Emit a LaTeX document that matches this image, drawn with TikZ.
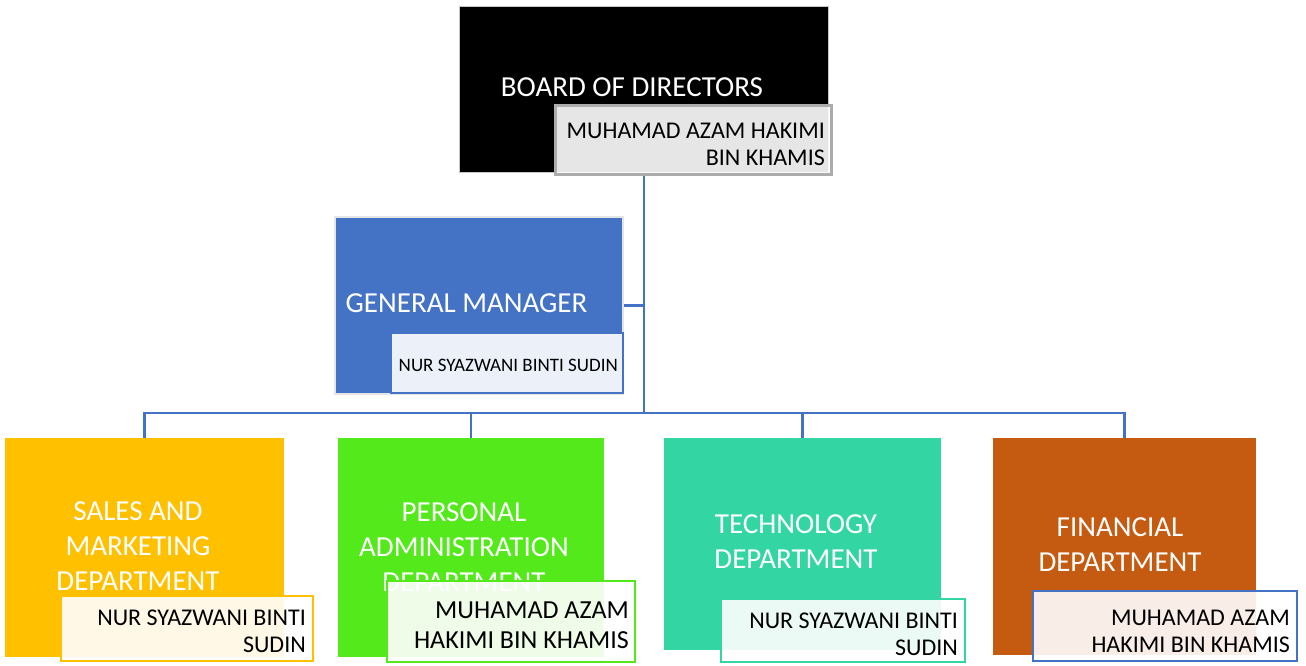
\documentclass[tikz,border=0pt]{standalone}
\usepackage{fontspec}
\setmainfont{Carlito}
\usetikzlibrary{positioning, backgrounds}
\definecolor{orgblue}{HTML}{4472C4}
\definecolor{salesgold}{HTML}{FFC000}
\definecolor{adminlime}{HTML}{53E91B}
\definecolor{techteal}{HTML}{33D6A3}
\definecolor{financerust}{HTML}{C55A11}
\tikzset{
    org_box/.style={
        rectangle,
        anchor=north west,
        inner sep=0pt
    },
    org_board/.style={
        org_box,
        fill=black,
        draw=gray!45,
        line width=1pt
    },
    org_gm/.style={
        org_box,
        fill=orgblue,
        draw=gray!20,
        line width=2pt
    },
    org_unit/.style={
        org_box,
        fill=#1
    },
    org_holder/.style={
        org_box,
        fill=white,
        fill opacity=0.9,
        draw=#1,
        line width=2pt
    },
    org_title/.style={
        text=white,
        align=center,
        inner sep=0pt,
        font=\fontsize{29}{35}\selectfont
    },
    org_holder_text/.style={
        anchor=east,
        align=right,
        inner sep=0pt,
        font=\fontsize{24}{27}\selectfont
    },
    org_line/.style={
        draw=orgblue,
        line width=2.5pt
    }
}

\begin{document}
\begin{tikzpicture}[x=1pt, y=-1pt]
\useasboundingbox (0,0) rectangle (1306,665);

% Top of the chart
\node[org_board, minimum width=369pt, minimum height=166pt] (board) at (459,6) {};
\node[org_title] (boardTitle) at (632,87) {BOARD OF DIRECTORS};
\node[org_holder=gray!65, line width=3pt, minimum width=276pt, minimum height=69pt] (boardName) at (554,104) {};
\node[org_holder_text] (boardNameText) at (825,144.5) {MUHAMAD AZAM HAKIMI\\BIN KHAMIS};

\node[org_gm, minimum width=288pt, minimum height=177pt] (gm) at (334,216) {};
\node[org_title] (gmTitle) at (466.5,303) {GENERAL MANAGER};
\node[org_holder=orgblue, minimum width=232pt, minimum height=60pt] (gmName) at (390,332) {};
\node[org_holder_text, font=\fontsize{19}{22}\selectfont] (gmNameText) at (618,365) {NUR SYAZWANI BINTI SUDIN};

% Departments
\node[org_unit=salesgold, minimum width=279pt, minimum height=219pt] (sales) at (5,438) {};
\node[org_title] (salesTitle) at (138,546.5) {SALES AND\\MARKETING\\DEPARTMENT};
\node[org_holder=salesgold, minimum width=252pt, minimum height=65pt] (salesName) at (60,595) {};
\node[org_holder_text] (salesNameText) at (306,631) {NUR SYAZWANI BINTI\\SUDIN};

\node[org_unit=adminlime, minimum width=266pt, minimum height=219pt] (personal) at (338,438) {};
\node[org_title] (personalTitle) at (464,547) {PERSONAL\\ADMINISTRATION\\DEPARTMENT};
\node[org_holder=adminlime, minimum width=248pt, minimum height=81pt] (personalName) at (386,580) {};
\node[org_holder_text, font=\fontsize{26}{30}\selectfont] (personalNameText) at (629,625) {MUHAMAD AZAM\\HAKIMI BIN KHAMIS};

\node[org_unit=techteal, minimum width=277pt, minimum height=212pt] (tech) at (664,438) {};
\node[org_title] (techTitle) at (796,542) {TECHNOLOGY\\DEPARTMENT};
\node[org_holder=techteal, minimum width=244pt, minimum height=63pt] (techName) at (720,598) {};
\node[org_holder_text] (techNameText) at (958,634.5) {NUR SYAZWANI BINTI\\SUDIN};

\node[org_unit=financerust, minimum width=263pt, minimum height=217pt] (finance) at (993,438) {};
\node[org_title] (financeTitle) at (1120,544.5) {FINANCIAL\\DEPARTMENT};
\node[org_holder=orgblue, minimum width=264pt, minimum height=70pt] (financeName) at (1032,590) {};
\node[org_holder_text] (financeNameText) at (1290,631) {MUHAMAD AZAM\\HAKIMI BIN KHAMIS};

% Reporting lines
\coordinate (bus) at (0,413);
\begin{scope}[on background layer]
\foreach \unit in {sales, personal, tech, finance}
    \draw[org_line] (board.south) -- (board.south |- bus) -| (\unit.north);
\draw[org_line] (gm.east) -- (gm.east -| board.south);
\end{scope}

\end{tikzpicture}
\end{document}
